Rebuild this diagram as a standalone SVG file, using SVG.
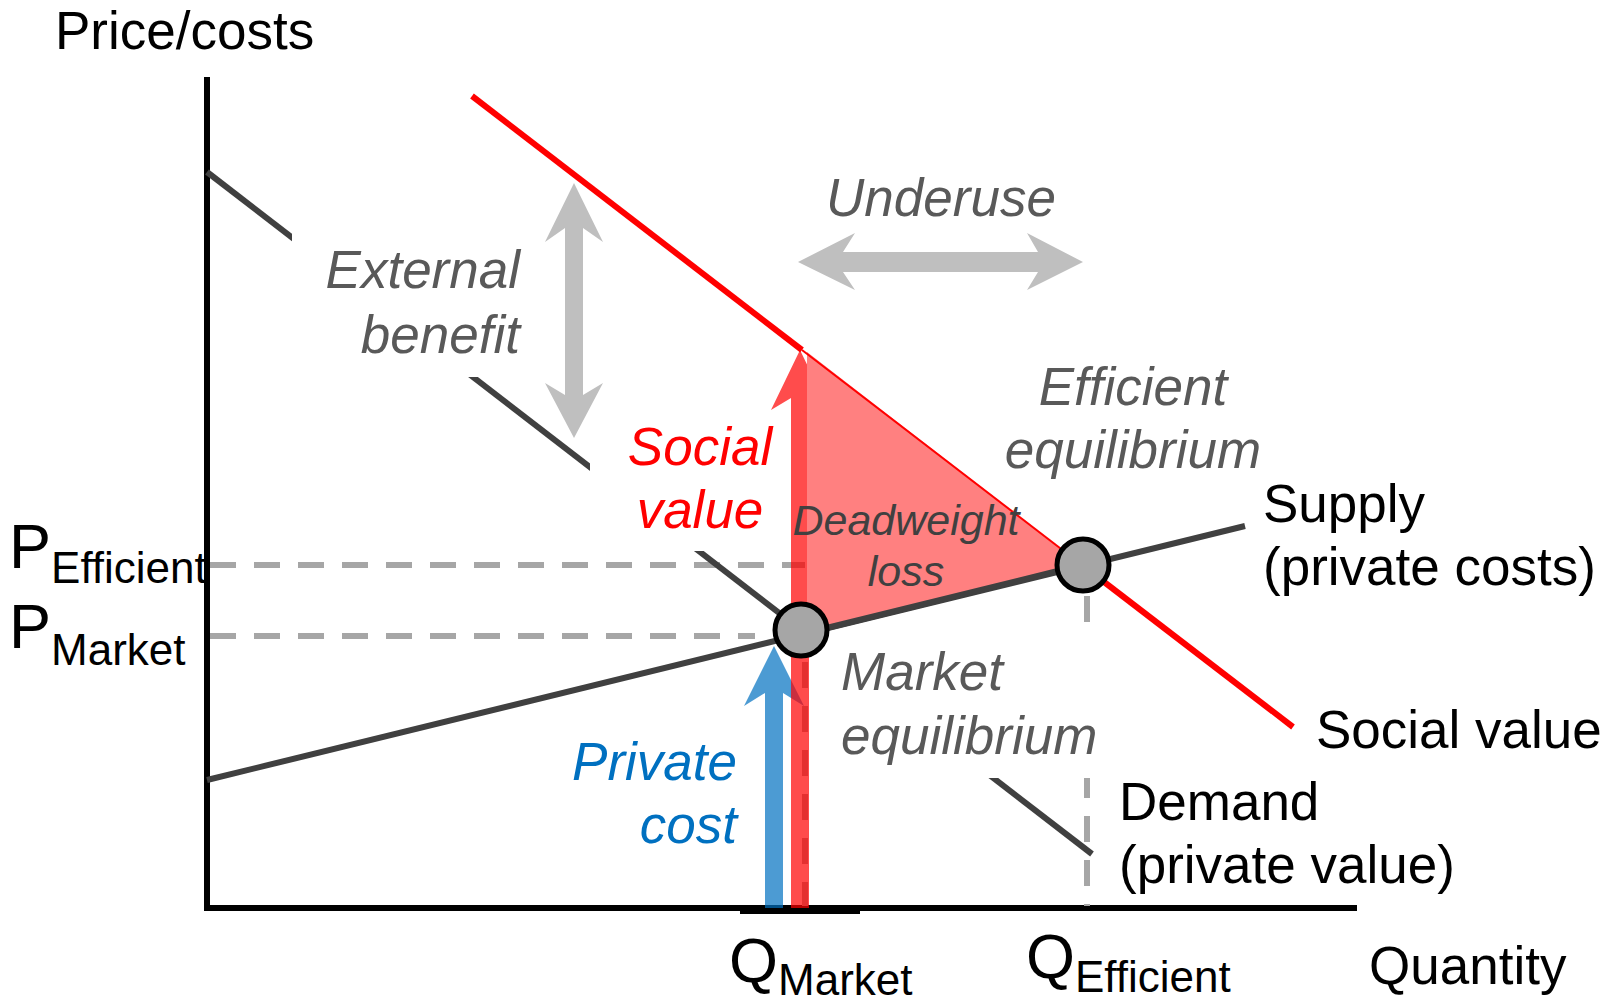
<svg xmlns="http://www.w3.org/2000/svg" width="1616" height="1004" viewBox="0 0 1616 1004">
<style>
text{font-family:"Liberation Sans",Arial,Helvetica,sans-serif;}
.lbl{font-size:53px;fill:#000;}
.it{font-size:53px;font-style:italic;fill:#595959;}
.dw{font-size:43px;font-style:italic;fill:#404040;}
.big{font-size:63px;fill:#000;}
.sub{font-size:44px;}
.curve{stroke:#404040;stroke-width:6;fill:none;}
.dash{stroke:#a6a6a6;stroke-width:6;stroke-dasharray:26 18;fill:none;}
.eq{fill:#a6a6a6;stroke:#000;stroke-width:5;}
.gr{fill:#bfbfbf;}
</style>
<rect width="1616" height="1004" fill="#fff"/>
<g id="axes">
<line x1="207" y1="77" x2="207" y2="911" stroke="#000" stroke-width="6"/>
<line x1="204" y1="908" x2="1357" y2="908" stroke="#000" stroke-width="6"/>
<rect x="740" y="905" width="120" height="9" fill="#000"/>
<text class="lbl" x="55" y="49">Price/costs</text>
<text class="lbl" x="1369" y="984">Quantity</text>
</g>
<g id="connectors">
<line class="dash" x1="210" y1="565" x2="805" y2="565"/>
<line class="dash" x1="210" y1="636" x2="755" y2="636"/>
<line class="dash" x1="805" y1="662" x2="805" y2="906"/>
<line class="dash" x1="1087" y1="596" x2="1087" y2="906"/>
<line class="curve" x1="207" y1="172" x2="1092" y2="854"/>
<line class="curve" x1="207" y1="780" x2="1245" y2="526"/>
<line stroke="#ff0000" stroke-width="6" x1="472" y1="96" x2="802" y2="350"/>
<line stroke="#ff0000" stroke-width="6" x1="1082" y1="565" x2="1293" y2="727"/>
</g>
<g id="label-masks" fill="#fff">
<rect x="292" y="228" width="240" height="149"/>
<rect x="590" y="414" width="188" height="137"/>
<rect x="815" y="637" width="295" height="141"/>
</g>
<g id="private-cost-arrow">
<polygon fill="#0070c0" fill-opacity="0.7" points="774,646 804,706 783,693 783,908 765,908 765,693 744,706"/>
</g>
<g id="social-value-arrow">
<polygon fill="#ff0000" fill-opacity="0.7" points="800,350 829,410 809,398 809,908 791,908 791,398 771,410"/>
</g>
<g id="deadweight-loss">
<polygon fill="#ff8080" points="807,352 1082,565 807,633"/>
<line stroke="#ff0000" stroke-width="2" x1="802" y1="350" x2="1082" y2="565"/>
<line class="curve" x1="790" y1="637" x2="1090" y2="563"/>
<text class="dw" x="906" y="535" text-anchor="middle">Deadweight</text>
<text class="dw" x="906" y="586" text-anchor="middle">loss</text>
</g>
<g id="external-benefit-arrow">
<polygon class="gr" points="574,183 603,242 583,228 583,395 603,383 574,438 545,383 565,395 565,228 545,242"/>
</g>
<g id="underuse-arrow">
<polygon class="gr" points="798,262 855,233 843,252 1038,252 1027,233 1083,262 1027,290 1038,272 843,272 855,290"/>
</g>
<g id="market-equilibrium">
<circle class="eq" cx="801" cy="630" r="26"/>
<text class="it" x="841" y="690">Market</text>
<text class="it" x="841" y="754">equilibrium</text>
</g>
<g id="efficient-equilibrium">
<circle class="eq" cx="1083" cy="565" r="26"/>
<text class="it" x="1133" y="405" text-anchor="middle">Efficient</text>
<text class="it" x="1133" y="468" text-anchor="middle">equilibrium</text>
</g>
<g id="labels">
<text class="it" x="941" y="216" text-anchor="middle">Underuse</text>
<text class="it" x="520" y="288" text-anchor="end">External</text>
<text class="it" x="520" y="353" text-anchor="end">benefit</text>
<text class="it" x="700" y="465" text-anchor="middle" style="fill:#ff0000">Social</text>
<text class="it" x="700" y="528" text-anchor="middle" style="fill:#ff0000">value</text>
<text class="it" x="737" y="780" text-anchor="end" style="fill:#0070c0">Private</text>
<text class="it" x="737" y="843" text-anchor="end" style="fill:#0070c0">cost</text>
<text class="lbl" x="1263" y="522">Supply</text>
<text class="lbl" x="1263" y="585">(private costs)</text>
<text class="lbl" x="1316" y="748">Social value</text>
<text class="lbl" x="1119" y="820">Demand</text>
<text class="lbl" x="1119" y="883">(private value)</text>
<text class="big" x="9" y="568">P<tspan class="sub" dy="15">Efficient</tspan></text>
<text class="big" x="9" y="648">P<tspan class="sub" dy="17">Market</tspan></text>
<text class="big" x="729" y="982">Q<tspan class="sub" dy="13">Market</tspan></text>
<text class="big" x="1026" y="978">Q<tspan class="sub" dy="14">Efficient</tspan></text>
</g>
</svg>
